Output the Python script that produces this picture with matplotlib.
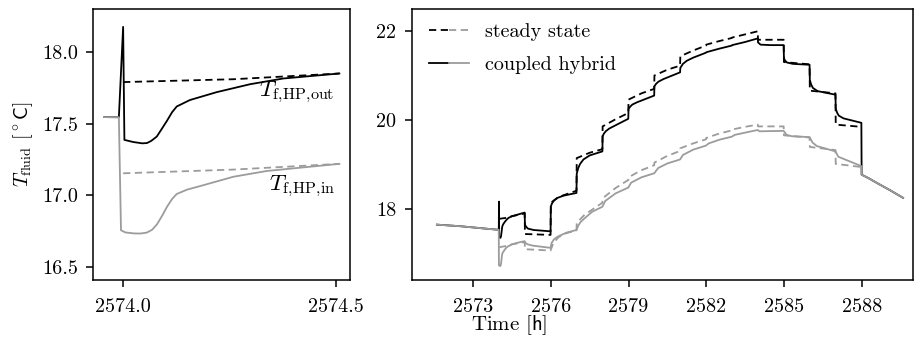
import numpy as np
import matplotlib.pyplot as plt
from matplotlib.legend_handler import HandlerTuple

plt.rcParams['font.family'] = 'serif'
plt.rcParams['font.serif'] = ['cmr10']
plt.rcParams['mathtext.fontset'] = 'cm'
plt.rcParams['axes.formatter.use_mathtext'] = True
plt.rcParams['font.size'] = 14.5

# coupled hybrid model, heat pump outlet
t_out = [2571.6, 2572.5, 2573.5, 2573.956, 2573.99, 2574.0, 2574.003, 2574.024, 2574.045, 2574.056,
         2574.066, 2574.079, 2574.09, 2574.103, 2574.115, 2574.126, 2574.157, 2574.22, 2574.298,
         2574.376, 2574.508, 2574.75, 2574.99,
         2575.0, 2575.05, 2575.12, 2575.34, 2575.99,
         2576.0, 2576.05, 2576.12, 2576.26, 2576.5, 2576.99,
         2577.0, 2577.06, 2577.13, 2577.26, 2577.5, 2577.99,
         2578.0, 2578.05, 2578.12, 2578.25, 2578.55, 2578.99,
         2579.0, 2579.06, 2579.15, 2579.33, 2579.99,
         2580.0, 2580.06, 2580.15, 2580.35, 2580.99,
         2581.0, 2581.1, 2581.25, 2581.5, 2581.99,
         2582.0, 2582.5, 2582.99,
         2583.0, 2583.5, 2583.99,
         2584.0, 2584.1, 2584.5, 2584.99,
         2585.0, 2585.05, 2585.12, 2585.35, 2585.99,
         2586.0, 2586.05, 2586.12, 2586.3, 2586.99,
         2587.0, 2587.05, 2587.12, 2587.3, 2587.99,
         2588.0, 2588.3, 2588.6, 2589.1, 2589.6]
T_out = [17.66, 17.625, 17.57, 17.546, 17.545, 18.175, 17.387, 17.372, 17.363, 17.365,
         17.38, 17.41, 17.46, 17.52, 17.58, 17.62, 17.665, 17.72, 17.775,
         17.815, 17.85, 17.89, 17.93,
         17.66, 17.61, 17.57, 17.54, 17.51,
         18.07, 18.14, 18.20, 18.26, 18.31, 18.37,
         18.80, 18.93, 19.02, 19.12, 19.21, 19.30,
         19.64, 19.70, 19.75, 19.81, 19.90, 20.03,
         20.25, 20.30, 20.35, 20.40, 20.55,
         20.76, 20.81, 20.86, 20.92, 21.07,
         21.17, 21.26, 21.33, 21.40, 21.51,
         21.52, 21.60, 21.67,
         21.68, 21.75, 21.83,
         21.74, 21.69, 21.68, 21.68,
         21.38, 21.33, 21.29, 21.26, 21.24,
         20.90, 20.80, 20.72, 20.65, 20.57,
         20.26, 20.17, 20.10, 20.04, 19.94,
         18.78, 18.69, 18.59, 18.43, 18.26]

# coupled hybrid model, heat pump inlet
t_in = [2571.6, 2572.5, 2573.5, 2573.956, 2573.99, 2573.995, 2574.005, 2574.025, 2574.04, 2574.055,
        2574.068, 2574.08, 2574.092, 2574.103, 2574.115, 2574.126, 2574.15, 2574.181, 2574.259,
        2574.337, 2574.508, 2574.75, 2574.99,
        2575.02, 2575.1, 2575.3, 2575.99,
        2576.03, 2576.12, 2576.26, 2576.6, 2576.99,
        2577.05, 2577.15, 2577.3, 2577.6, 2577.99,
        2578.1, 2578.5, 2578.99,
        2579.1, 2579.5, 2579.99,
        2580.15, 2580.5, 2580.99,
        2581.1, 2581.5, 2581.99,
        2582.1, 2582.5, 2582.99,
        2583.1, 2583.5, 2583.99,
        2584.05, 2584.99,
        2585.1, 2585.3, 2585.99,
        2586.1, 2586.27, 2586.99,
        2587.1, 2587.99,
        2588.0, 2588.3, 2588.6, 2589.1, 2589.6]
T_in = [17.66, 17.625, 17.57, 17.546, 17.545, 16.757, 16.742, 16.735, 16.734, 16.74,
        16.76, 16.80, 16.86, 16.92, 16.975, 17.01, 17.04, 17.065, 17.13,
        17.17, 17.22, 17.26, 17.29,
        17.25, 17.22, 17.19, 17.14,
        17.25, 17.33, 17.39, 17.48, 17.54,
        17.63, 17.72, 17.80, 17.95, 18.06,
        18.19, 18.36, 18.49,
        18.60, 18.72, 18.81,
        18.93, 19.03, 19.12,
        19.22, 19.34, 19.43,
        19.48, 19.56, 19.63,
        19.67, 19.72, 19.78,
        19.75, 19.76,
        19.67, 19.64, 19.62,
        19.50, 19.42, 19.30,
        19.18, 18.97,
        18.78, 18.69, 18.59, 18.43, 18.26]

# steady state model, heat pump outlet
t_out_ss = [2574.0, 2574.26, 2574.508, 2574.99,
            2575.0, 2575.99,
            2576.0, 2576.3, 2576.99,
            2577.0, 2577.5, 2577.99,
            2578.0, 2578.5, 2578.99,
            2579.0, 2579.5, 2579.99,
            2580.0, 2580.5, 2580.99,
            2581.0, 2581.5, 2581.99,
            2582.0, 2582.5, 2582.99,
            2583.0, 2583.5, 2583.99,
            2584.0, 2584.99,
            2585.0, 2585.99,
            2586.0, 2586.99,
            2587.0, 2587.99]
T_out_ss = [17.79, 17.81, 17.85, 17.91,
            17.45, 17.43,
            18.15, 18.28, 18.42,
            19.15, 19.27, 19.35,
            19.86, 20.02, 20.16,
            20.46, 20.60, 20.70,
            21.00, 21.13, 21.22,
            21.43, 21.56, 21.67,
            21.69, 21.77, 21.84,
            21.85, 21.92, 21.99,
            21.80, 21.80,
            21.30, 21.25,
            20.66, 20.60,
            19.90, 19.85]

# steady state model, heat pump inlet
t_in_ss = [2574.0, 2574.26, 2574.508, 2574.99,
           2575.0, 2575.99,
           2576.0, 2576.1, 2576.3, 2576.6, 2576.99,
           2577.0, 2577.3, 2577.99,
           2578.0, 2578.5, 2578.99,
           2579.0, 2579.5, 2579.99,
           2580.0, 2580.5, 2580.99,
           2581.0, 2581.5, 2581.99,
           2582.0, 2582.5, 2582.99,
           2583.0, 2583.5, 2583.99,
           2584.0, 2584.99,
           2585.0, 2585.99,
           2586.0, 2586.99,
           2587.0, 2587.99]
T_in_ss = [17.154, 17.18, 17.22, 17.27,
           17.11, 17.08,
           17.10, 17.25, 17.38, 17.47, 17.53,
           17.70, 17.88, 18.15,
           18.25, 18.48, 18.66,
           18.72, 18.88, 18.99,
           19.05, 19.20, 19.31,
           19.37, 19.48, 19.57,
           19.60, 19.70, 19.77,
           19.79, 19.85, 19.90,
           19.86, 19.86,
           19.66, 19.61,
           19.40, 19.33,
           19.02, 18.95]

black = 'black'
grey = '#9c9c9c'
lw = 1.3
dash = (0, (4, 2.5))

fig = plt.figure(figsize=(9.15, 3.44), dpi=100)
ax1 = fig.add_axes([0.102, 0.186, 0.2805, 0.788])
ax2 = fig.add_axes([0.45, 0.186, 0.548, 0.788])


def draw(ax, lo, hi):
    def sel(t, y):
        t = np.asarray(t)
        y = np.asarray(y)
        m = (t >= lo) & (t <= hi)
        return t[m], y[m]
    l1, = ax.plot(*sel(t_out_ss, T_out_ss), color=black, lw=lw, ls=dash)
    l2, = ax.plot(*sel(t_in_ss, T_in_ss), color=grey, lw=lw, ls=dash)
    l3, = ax.plot(*sel(t_out, T_out), color=black, lw=lw)
    l4, = ax.plot(*sel(t_in, T_in), color=grey, lw=lw)
    return l1, l2, l3, l4


draw(ax1, 2573.95, 2574.51)
l1, l2, l3, l4 = draw(ax2, 2570, 2591)

ax1.set_xlim(2573.93, 2574.533)
ax1.set_ylim(16.41, 18.30)
ax1.set_xticks([2574.0, 2574.5])
ax1.set_xticklabels(['2574.0', '2574.5'])
ax1.set_yticks([16.5, 17.0, 17.5, 18.0])
ax1.set_yticklabels(['16.5', '17.0', '17.5', '18.0'])
ax1.set_ylabel('$T_\\mathrm{fluid}$ [$^\\circ\\mathsf{C}$]', labelpad=5)
ax1.text(2574.497, 17.72, '$T_\\mathrm{f,\\!HP,\\!out}$', ha='right', va='center', fontsize=16.5)
ax1.text(2574.497, 17.065, '$T_\\mathrm{f,\\!HP,\\!in}$', ha='right', va='center', fontsize=16.5)

ax2.set_xlim(2570.63, 2589.99)
ax2.set_ylim(16.42, 22.49)
ax2.set_xticks([2573, 2576, 2579, 2582, 2585, 2588])
ax2.set_xticklabels(['2573', '2576', '2579', '2582', '2585', '2588'])
ax2.set_yticks([18, 20, 22])
ax2.set_yticklabels(['18', '20', '22'])
ax2.legend([(l1, l2), (l3, l4)], ['steady state', 'coupled hybrid'],
           handler_map={tuple: HandlerTuple(ndivide=None, pad=0)},
           loc='upper left', bbox_to_anchor=(0.006, 1.0), frameon=False,
           handlelength=2.0, fontsize=14.5, borderaxespad=0.3, labelspacing=0.75)

for ax in (ax1, ax2):
    for s in ax.spines.values():
        s.set_linewidth(1.1)
    ax.tick_params(width=1.1, length=5)
    ax.tick_params(axis='x', pad=8)
    ax.tick_params(axis='y', pad=6)

fig.text(509 / 915, 0.055, 'Time [$\\mathsf{h}$]', ha='center', va='center', fontsize=15)

fig.savefig('out.png', dpi=100)
